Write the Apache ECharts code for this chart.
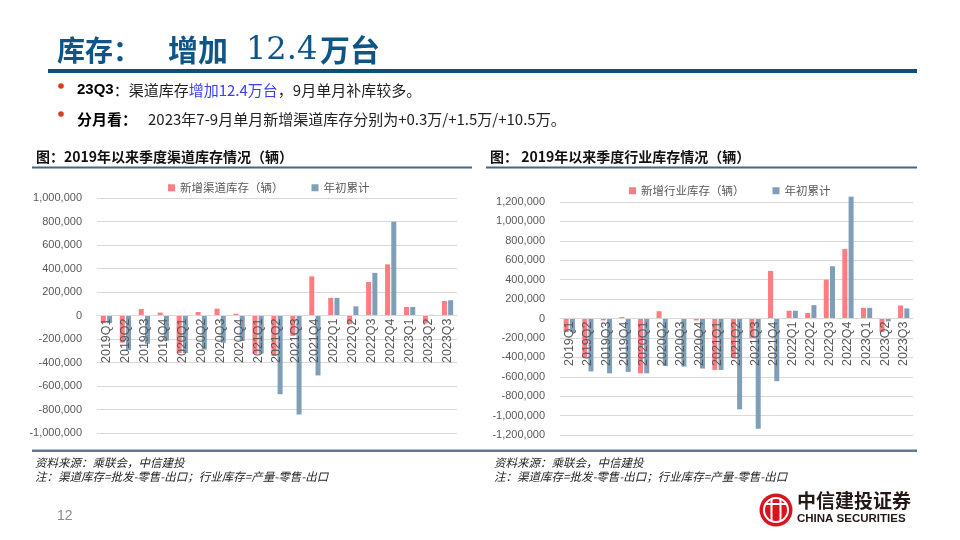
<!DOCTYPE html>
<html>
<head>
<meta charset="utf-8">
<script src="https://cdn.jsdelivr.net/npm/echarts@6/dist/echarts.min.js"></script>
<style>
html,body{margin:0;padding:0;background:#fff;}
#c{width:960px;height:540px;}
</style>
</head>
<body>
<div id="c"></div>
<script>
// ---- data ----
const categories = ['2019Q1','2019Q2','2019Q3','2019Q4','2020Q1','2020Q2','2020Q3','2020Q4','2021Q1','2021Q2','2021Q3','2021Q4','2022Q1','2022Q2','2022Q3','2022Q4','2023Q1','2023Q2','2023Q3'];
const channelNew = [-65000,-230000,55000,25000,-320000,30000,58000,15000,-325000,-345000,-173000,333000,150000,-72000,285000,435000,73000,-67000,124000];
const channelCum = [-65000,-295000,-240000,-215000,-320000,-290000,-232000,-217000,-325000,-670000,-843000,-510000,150000,78000,363000,798000,73000,6000,130000];
const industryNew = [-140000,-405000,-20000,15000,-565000,75000,-5000,-20000,-530000,-406000,-200000,490000,80000,58000,400000,717000,110000,-140000,134000];
const industryCum = [-140000,-545000,-565000,-550000,-565000,-490000,-495000,-515000,-530000,-936000,-1136000,-646000,80000,138000,538000,1255000,110000,-30000,104000];
const leftTicks = [-1000000,-800000,-600000,-400000,-200000,0,200000,400000,600000,800000,1000000];
const rightTicks = [-1200000,-1000000,-800000,-600000,-400000,-200000,0,200000,400000,600000,800000,1000000,1200000];
const leftNames = ['新增渠道库存（辆）','年初累计'];
const rightNames = ['新增行业库存（辆）','年初累计'];

const PINK = '#FF7C80', BLUE = '#7F9FB9';
const FONT = '"Liberation Sans","Noto Sans CJK SC",sans-serif';
const CJK = '"Noto Sans CJK SC",sans-serif';
function fmt(v){ return String(v).replace(/\B(?=(\d{3})+(?!\d))/g, ','); }

const grids = [
  {left:97, top:198, width:360, height:235},
  {left:560, top:202, width:353, height:233}
];
function xAxis(i, ticks){
  const mn = ticks[0], mx = ticks[ticks.length-1];
  const off = -grids[i].height * (0 - mn) / (mx - mn); // place axis at value 0
  return {type:'category', gridIndex:i, data:categories, z:10, position:'bottom', offset:off,
    axisLine:{onZero:false, lineStyle:{color:'#d9d9d9'}},
    axisTick:{show:false},
    axisLabel:{rotate:90, interval:0, fontSize:12.5, color:'#595959', margin:3, fontFamily:FONT}};
}
function yAxis(i, ticks){
  return {type:'value', gridIndex:i, min:ticks[0], max:ticks[ticks.length-1], interval:200000,
    axisLine:{show:false}, axisTick:{show:false},
    splitLine:{lineStyle:{color:'#d9d9d9'}},
    axisLabel:{formatter:fmt, fontSize:11, color:'#595959', margin:15, fontFamily:FONT}};
}
function bar(name, data, idx, color){
  return {type:'bar', name:name, xAxisIndex:idx, yAxisIndex:idx, data:data, clip:false,
    barWidth:5, barGap:'25%', itemStyle:{color:color}, animation:false};
}
function txt(x, y, text, font, fill, extra){
  return Object.assign({type:'text', x:x, y:y, silent:true,
    style:Object.assign({text:text, font:font, fill:fill, verticalAlign:'middle', textVerticalAlign:'middle'}, extra||{})});
}

const graphic = [
  // header
  txt(57, 50, '库存：', 'bold 28px ' + CJK, '#0F5585'),
  txt(168, 50, '增加', 'bold 30px ' + CJK, '#0F5585'),
  txt(246, 51, '12.4', '32px "DejaVu Serif",serif', '#0F5585'),
  txt(320, 50, '万台', 'bold 30px ' + CJK, '#0F5585'),
  {type:'rect', shape:{x:48, y:69, width:869, height:4}, style:{fill:'#0B4F7E'}, silent:true},
  {type:'circle', shape:{cx:61, cy:86, r:2.8}, style:{fill:'#D5401C'}, silent:true},
  {type:'circle', shape:{cx:61, cy:114, r:2.8}, style:{fill:'#D5401C'}, silent:true},
  {type:'text', x:77, y:90, silent:true, style:{
    text:'{b|23Q3}{n|：渠道库存}{u|增加12.4万台}{n|，9月单月补库较多。}',
    verticalAlign:'middle', textVerticalAlign:'middle',
    rich:{
      b:{font:'bold 15px ' + FONT, fill:'#000', color:'#000'},
      n:{font:'15px ' + CJK, fill:'#222', color:'#222'},
      u:{font:'15px ' + CJK, fill:'#3C3CFF', color:'#3C3CFF'}
    }}},
  txt(77, 119, '分月看：', 'bold 15px ' + CJK, '#000'),
  txt(148, 119, '2023年7-9月单月新增渠道库存分别为+0.3万/+1.5万/+10.5万。', '15px ' + CJK, '#222'),
  // chart titles
  txt(36, 157, '图：2019年以来季度渠道库存情况（辆）', 'bold 14px ' + CJK, '#111'),
  txt(490, 157, '图： 2019年以来季度行业库存情况（辆）', 'bold 14px ' + CJK, '#111'),
  {type:'rect', shape:{x:32, y:166.5, width:440, height:2}, style:{fill:'#4A6580'}, silent:true},
  {type:'rect', shape:{x:486, y:166.5, width:431, height:2}, style:{fill:'#4A6580'}, silent:true},
  {type:'rect', shape:{x:32, y:449.5, width:885, height:2.5}, style:{fill:'#5C7A94'}, silent:true},
  // sources
  txt(35, 463, '资料来源：乘联会，中信建投', 'italic 11.5px ' + CJK, '#222'),
  txt(35, 477, '注：渠道库存=批发-零售-出口；行业库存=产量-零售-出口', 'italic 11.5px ' + CJK, '#222'),
  txt(494, 463, '资料来源：乘联会，中信建投', 'italic 11.5px ' + CJK, '#222'),
  txt(494, 477, '注：渠道库存=批发-零售-出口；行业库存=产量-零售-出口', 'italic 11.5px ' + CJK, '#222'),
  // page number
  txt(57, 516, '12', '14px "Liberation Sans",sans-serif', '#8C8C8C'),
  // logo
  {type:'circle', shape:{cx:776, cy:510, r:16.5}, style:{fill:'#D7151F'}, silent:true},
  {type:'circle', shape:{cx:776, cy:510, r:12}, style:{fill:'none', stroke:'#fff', lineWidth:2}, silent:true},
  {type:'rect', shape:{x:770.5, y:499, width:2, height:22}, style:{fill:'#fff'}, silent:true},
  {type:'rect', shape:{x:779.5, y:499, width:2, height:22}, style:{fill:'#fff'}, silent:true},
  {type:'rect', shape:{x:766, y:503, width:20, height:2}, style:{fill:'#fff'}, silent:true},
  txt(797, 501, '中信建投证券', 'bold 19px ' + CJK, '#231815'),
  txt(797, 518.5, 'CHINA SECURITIES', 'bold 11.5px "Liberation Sans",sans-serif', '#231815')
];

const chart = echarts.init(document.getElementById('c'), null, {renderer:'canvas'});
chart.setOption({
  backgroundColor:'#fff',
  animation:false,
  textStyle:{fontFamily:FONT},
  legend:[
    {data:leftNames, left:163, top:177, itemWidth:7, itemHeight:7, itemGap:28, icon:'rect',
     textStyle:{fontSize:11.5, color:'#595959', fontFamily:CJK}},
    {data:rightNames, left:624, top:180, itemWidth:7, itemHeight:7, itemGap:28, icon:'rect',
     textStyle:{fontSize:11.5, color:'#595959', fontFamily:CJK}}
  ],
  grid:grids,
  xAxis:[xAxis(0, leftTicks), xAxis(1, rightTicks)],
  yAxis:[yAxis(0, leftTicks), yAxis(1, rightTicks)],
  series:[
    bar(leftNames[0], channelNew, 0, PINK),
    bar(leftNames[1], channelCum, 0, BLUE),
    bar(rightNames[0], industryNew, 1, PINK),
    bar(rightNames[1], industryCum, 1, BLUE)
  ],
  graphic:graphic
});
</script>
</body>
</html>
